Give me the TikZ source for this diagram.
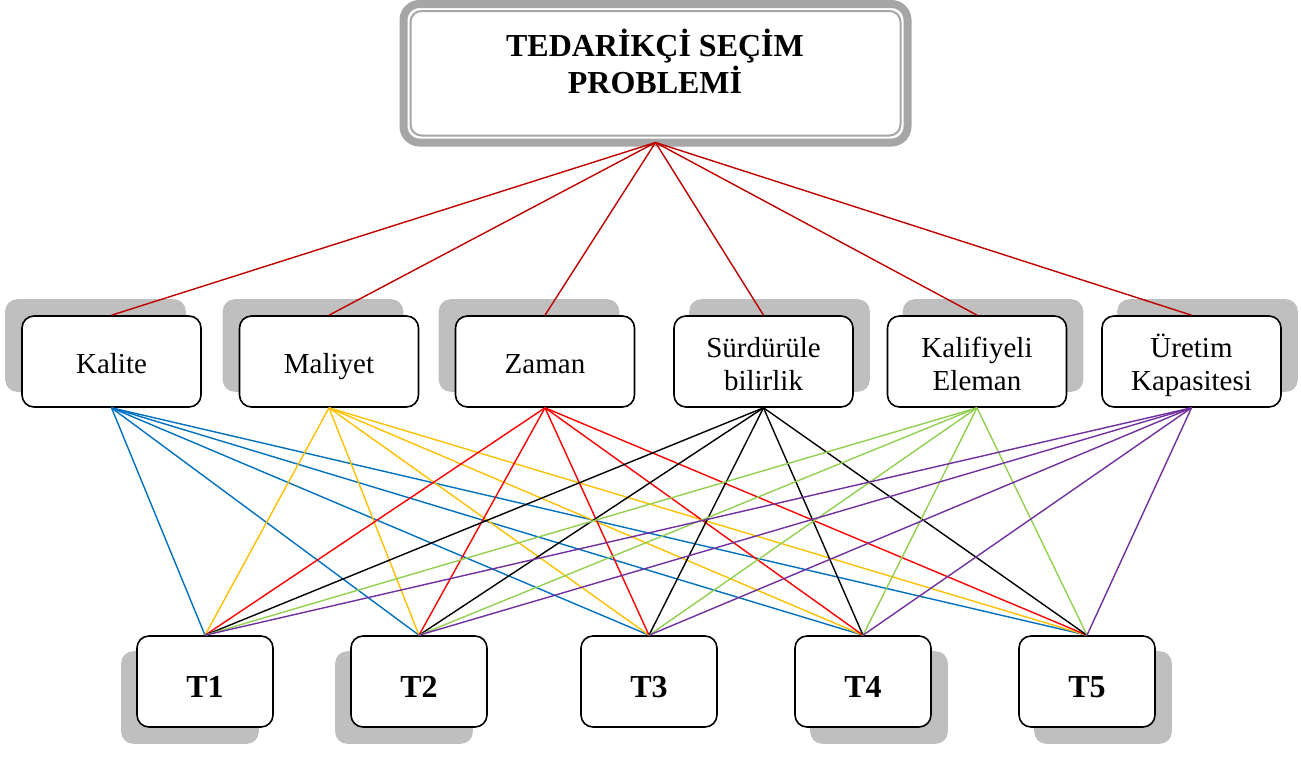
\documentclass[tikz,border=0pt]{standalone}
\usepackage{fontspec}
\setmainfont{Liberation Serif}
\usetikzlibrary{backgrounds}
\definecolor{topred}{HTML}{C00000}
\definecolor{cblue}{HTML}{0070C0}
\definecolor{cyellow}{HTML}{FFC000}
\definecolor{cred}{HTML}{FF0000}
\definecolor{cgreen}{HTML}{92D050}
\definecolor{cpurple}{HTML}{7030A0}
\definecolor{shadowgray}{HTML}{BFBFBF}
\definecolor{ringgray}{HTML}{A6A6A6}
\begin{document}
\begin{tikzpicture}[x=1pt,y=-1pt,
    box/.style={draw,line width=1.6pt,rounded corners=12pt,fill=white,inner sep=0pt},
    crit/.style={box,minimum width=179pt,minimum height=91pt,align=center,
      font=\fontsize{29}{33}\selectfont,text height=23pt,text depth=0pt},
    crittwo/.style={crit,text height=57pt,text depth=0pt},
    alt/.style={box,minimum width=136pt,minimum height=91pt,
      font=\fontsize{32}{36}\selectfont\bfseries,text height=31pt,text depth=0pt},
    shade/.style={fill=shadowgray,rounded corners=12pt},
    link/.style={line width=1.4pt}]
    \useasboundingbox (0,0) rectangle (1301,756);
    % goal
    \node[draw=ringgray,line width=8pt,rounded corners=16pt,fill=white,outer sep=0pt,
      minimum width=504pt,minimum height=138.5pt] (problem) at (655.5,73.25) {};
    \draw[ringgray,line width=2pt,rounded corners=11pt]
      ([shift={(7,7)}]problem.north west) rectangle ([shift={(-7,-7)}]problem.south east);
    \node[align=center,font=\fontsize{32}{37}\selectfont\bfseries] (title) at (655,61)
      {TEDARİKÇİ SEÇİM\\PROBLEMİ};
    % criteria
    \node[crit] (kalite) at (111.5,361.5) {Kalite};
    \node[crit] (maliyet) at (329,361.5) {Maliyet};
    \node[crit] (zaman) at (545,361.5) {Zaman};
    \node[crittwo] (surdur) at (763.5,361.5) {Sürdürüle\\bilirlik};
    \node[crittwo] (kalif) at (977,361.5) {Kalifiyeli\\Eleman};
    \node[crittwo] (uretim) at (1191.5,361.5) {Üretim\\Kapasitesi};
    % suppliers
    \node[alt] (t1) at (205,681.5) {T1};
    \node[alt] (t2) at (419,681.5) {T2};
    \node[alt] (t3) at (649,681.5) {T3};
    \node[alt] (t4) at (863,681.5) {T4};
    \node[alt] (t5) at (1087,681.5) {T5};
    % shadows
    \begin{scope}[on background layer]
        \foreach \n/\dx/\dy in {kalite/-16/-16,maliyet/-16/-16,zaman/-16/-16,
          surdur/16/-16,kalif/16/-16,uretim/16/-16,t1/-15/16,t2/-15/16,t4/16/16,t5/16/16}
            \fill[shade] ([shift={(\dx,\dy)}]\n.north west) rectangle ([shift={(\dx,\dy)}]\n.south east);
    \end{scope}
    % links
    \foreach \c in {kalite,maliyet,zaman,surdur,kalif,uretim}
        \draw[link,topred] (problem.south) -- (\c.north);
    \foreach \c/\col in {kalite/cblue,maliyet/cyellow,zaman/cred,surdur/black,kalif/cgreen,uretim/cpurple}
        \foreach \t in {t1,t2,t3,t4,t5}
            \draw[link,\col] (\c.south) -- (\t.north);
\end{tikzpicture}
\end{document}
